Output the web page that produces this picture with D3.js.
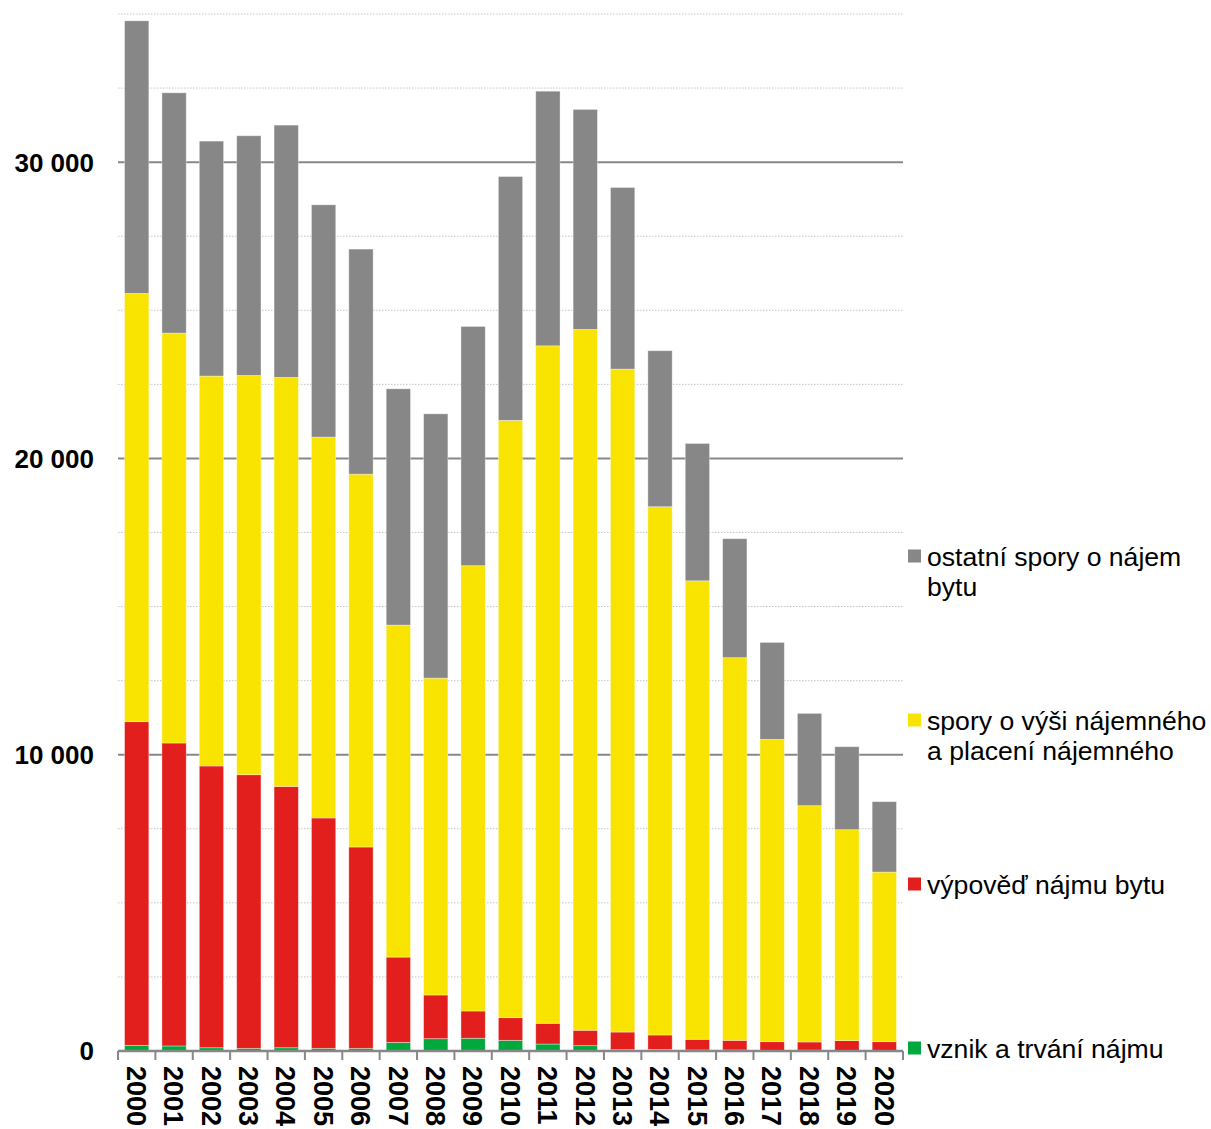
<!DOCTYPE html>
<html lang="cs">
<head>
<meta charset="utf-8">
<script src="https://cdn.jsdelivr.net/npm/d3@7"></script>
<style>
  html, body { margin: 0; padding: 0; background: #fff; }
  svg { display: block; font-family: "Liberation Sans", Arial, sans-serif; }
</style>
</head>
<body>
<svg id="chart" width="1211" height="1129"></svg>
<script>
// Years on the category axis
const years = ["2000","2001","2002","2003","2004","2005","2006","2007","2008","2009","2010",
               "2011","2012","2013","2014","2015","2016","2017","2018","2019","2020"];

// Number of cases per year, by type of dispute (stacked bottom to top)
const vznik   = [190, 170, 110, 90, 110, 90, 90, 290, 415, 430, 360, 235, 180, 45, 55, 35, 35, 10, 30, 10, 10];
const vypoved = [10925, 10225, 9510, 9235, 8820, 7775, 6795, 2880, 1475, 920, 765, 700, 520, 595, 485, 360, 325, 305, 275, 340, 305];
const vyse    = [14455, 13835, 13160, 13475, 13805, 12855, 12585, 11205, 10695, 15030, 20160, 22865, 23655, 22375, 17830, 15475, 12915, 10205, 7975, 7120, 5725];
const ostatni = [9200, 8110, 7930, 8090, 8515, 7840, 7595, 7975, 8920, 8075, 8230, 8595, 7425, 6130, 5265, 4635, 4015, 3270, 3115, 2800, 2375];

// Y axis labelled ticks
const yTickValues = [0, 10000, 20000, 30000];
const yTickLabels = ["0", "10 000", "20 000", "30 000"];

// Series definitions (bottom to top) and legend labels
const seriesKeys = ["vznik", "vypoved", "vyse", "ostatni"];
const seriesLabels = {
  ostatni: ["ostatní spory o nájem", "bytu"],
  vyse: ["spory o výši nájemného", "a placení nájemného"],
  vypoved: ["výpověď nájmu bytu"],
  vznik: ["vznik a trvání nájmu"]
};
const colors = { vznik: "#00a83e", vypoved: "#e21f1c", vyse: "#f8e400", ostatni: "#878787" };

const rows = years.map((yr, i) => ({
  year: yr, vznik: vznik[i], vypoved: vypoved[i], vyse: vyse[i], ostatni: ostatni[i]
}));

const svg = d3.select("#chart");
const plotLeft = 118, plotRight = 903, plotTop = 14, plotBottom = 1051;

const x = d3.scaleBand().domain(years).range([plotLeft, plotRight]).paddingInner(0.35).paddingOuter(0.175);
const y = d3.scaleLinear().domain([0, 35000]).range([plotBottom, plotTop]);

// Gridlines: dotted minor every 2 500, solid major every 10 000
const gridVals = d3.range(2500, 35001, 2500);
svg.append("g").selectAll("line")
  .data(gridVals)
  .join("line")
  .attr("x1", plotLeft).attr("x2", plotRight)
  .attr("y1", d => y(d)).attr("y2", d => y(d))
  .attr("stroke", d => d % 10000 === 0 ? "#878787" : "#c4c4c4")
  .attr("stroke-width", d => d % 10000 === 0 ? 2 : 1)
  .attr("stroke-dasharray", d => d % 10000 === 0 ? null : "1.5,1.5");

// Stacked bars
const stack = d3.stack().keys(seriesKeys)(rows);
svg.append("g").selectAll("g")
  .data(stack)
  .join("g")
  .attr("fill", s => colors[s.key])
  .selectAll("rect")
  .data(s => s)
  .join("rect")
  .attr("x", d => x(d.data.year))
  .attr("width", x.bandwidth())
  .attr("y", d => y(d[1]))
  .attr("height", d => y(d[0]) - y(d[1]))
  .attr("stroke", "#ffffff")
  .attr("stroke-opacity", 0.45)
  .attr("stroke-width", 0.8);

// Category axis with ticks between categories
const step = x.step();
const xAxis = svg.append("g");
xAxis.append("line")
  .attr("x1", plotLeft).attr("x2", plotRight)
  .attr("y1", plotBottom).attr("y2", plotBottom)
  .attr("stroke", "#878787").attr("stroke-width", 2.5);
xAxis.selectAll("line.tick")
  .data(d3.range(years.length + 1))
  .join("line")
  .attr("class", "tick")
  .attr("x1", i => plotLeft + i * step).attr("x2", i => plotLeft + i * step)
  .attr("y1", plotBottom).attr("y2", plotBottom + 9)
  .attr("stroke", "#878787").attr("stroke-width", 2);
xAxis.selectAll("text")
  .data(years)
  .join("text")
  .attr("transform", d => `translate(${x(d) + x.bandwidth() / 2},${plotBottom + 15}) rotate(90)`)
  .attr("dy", "0.36em")
  .attr("text-anchor", "start")
  .attr("font-weight", "bold")
  .attr("font-size", 27)
  .attr("fill", "#000")
  .text(d => d);

// Value axis labels
svg.append("g").selectAll("text")
  .data(yTickValues)
  .join("text")
  .attr("x", 94)
  .attr("y", d => y(d))
  .attr("dy", "0.36em")
  .attr("text-anchor", "end")
  .attr("font-weight", "bold")
  .attr("font-size", 26)
  .attr("fill", "#000")
  .text((d, i) => yTickLabels[i]);

// Legend
const legendOrder = ["ostatni", "vyse", "vypoved", "vznik"];
const legendY = [556, 720, 884, 1048];
const legend = svg.append("g").selectAll("g")
  .data(legendOrder)
  .join("g")
  .attr("transform", (d, i) => `translate(908,${legendY[i]})`);
legend.append("rect")
  .attr("x", 0).attr("y", -6.5)
  .attr("width", 13).attr("height", 13)
  .attr("fill", d => colors[d]);
legend.append("text")
  .attr("x", 19)
  .attr("font-size", 26.6)
  .attr("fill", "#000")
  .selectAll("tspan")
  .data(d => seriesLabels[d])
  .join("tspan")
  .attr("x", 19)
  .attr("y", (t, j) => j * 30)
  .attr("dy", "0.36em")
  .text(t => t);
</script>
</body>
</html>
